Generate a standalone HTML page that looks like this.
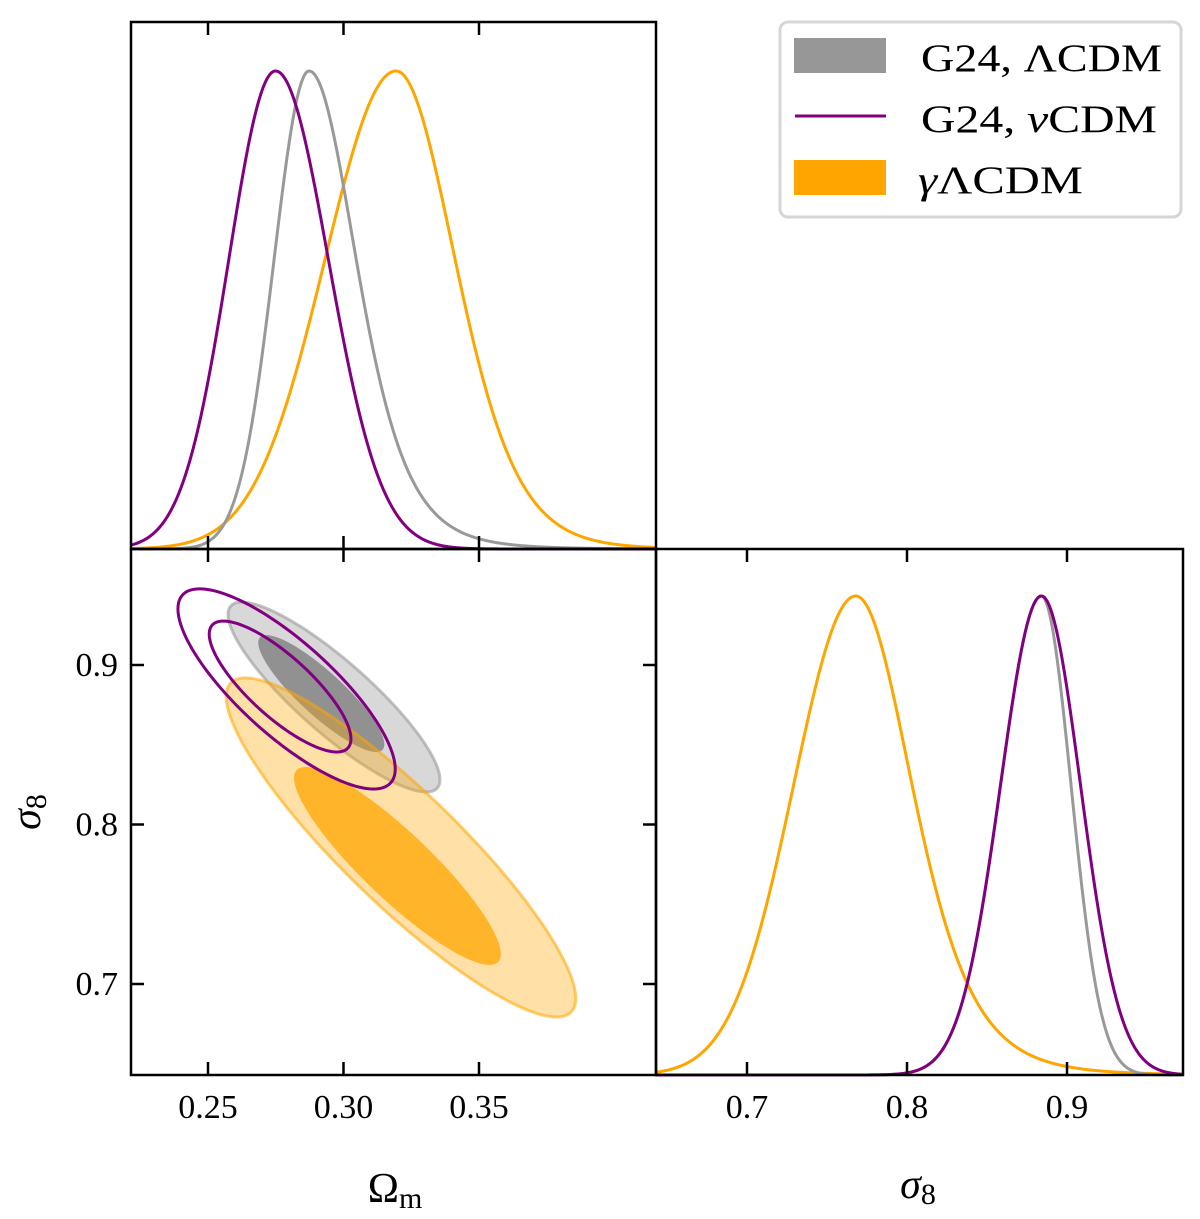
<!DOCTYPE html>
<html><head><meta charset="utf-8"><style>
html,body{margin:0;padding:0;background:#fff;}
svg text{font-family:"Liberation Serif","DejaVu Serif",serif;}
</style></head><body>
<svg id="fig" width="1200" height="1214" viewBox="0 0 1200 1214" xmlns="http://www.w3.org/2000/svg">
<g id="layer"></g>
<text x="395" y="1202" font-size="42" text-anchor="middle">Ω<tspan font-size="30" dy="6">m</tspan></text>
<text x="918" y="1198" font-size="42" text-anchor="middle"><tspan font-style="italic">σ</tspan><tspan font-size="30" dy="6">8</tspan></text>
<text transform="translate(40,812) rotate(-90)" font-size="42" text-anchor="middle"><tspan font-style="italic">σ</tspan><tspan font-size="30" dy="6">8</tspan></text>
<g>
<rect x="780" y="22" width="401" height="195" rx="8" fill="#fff" stroke="#d6d6d6" stroke-width="3"/>
<rect x="794" y="38" width="92" height="35" fill="#979797"/>
<line x1="795" x2="886" y1="116" y2="116" stroke="#800080" stroke-width="3"/>
<rect x="794" y="160" width="92" height="35" fill="#ffa500"/>
<text x="921" y="71" font-size="39" textLength="241" lengthAdjust="spacingAndGlyphs">G24, ΛCDM</text>
<text x="921" y="132" font-size="39" textLength="236" lengthAdjust="spacingAndGlyphs">G24, <tspan font-style="italic">ν</tspan>CDM</text>
<text x="918" y="193" font-size="39" textLength="165" lengthAdjust="spacingAndGlyphs"><tspan font-style="italic">γ</tspan>ΛCDM</text>
</g>
</svg>
<script>
// 1D marginals: Omega_m (peak, left scale, right scale, left/right tail nu; 1000 = gaussian)
const omSeries = ["grey","purple","orange"];
const omPeak   = [0.2873, 0.2749, 0.3194];
const omSigL   = [0.0129, 0.0172, 0.0262];
const omSigR   = [0.0181, 0.0195, 0.0223];
const omNuL    = [1000, 1000, 1000];
const omNuR    = [6, 1000, 10];
// 1D marginals: sigma_8
const s8Peak   = [0.884, 0.884, 0.768];
const s8SigL   = [0.0255, 0.0255, 0.0388];
const s8SigR   = [0.0185, 0.0244, 0.0366];
const s8NuL    = [1000, 1000, 1000];
const s8NuR    = [1000, 1000, 6];
// 2D contours: outer (95%) and inner (68%) centers, sigmas, correlation
const c2OmOut = [0.2965, 0.2790, 0.3212];
const c2S8Out = [0.8799, 0.8850, 0.7856];
const c2OmIn  = [0.2918, 0.2766, 0.3199];
const c2S8In  = [0.8821, 0.8865, 0.7740];
const c2SOmOut = [0.0157, 0.0161, 0.0259];
const c2SS8Out = [0.0239, 0.0252, 0.0427];
const c2SOmIn  = [0.0153, 0.0172, 0.0251];
const c2SS8In  = [0.0241, 0.0270, 0.0408];
const c2Rho = [-0.87, -0.80, -0.89];
// ticks
const omTicks = [0.25, 0.30, 0.35];
const omTickLabels = ["0.25","0.30","0.35"];
const s8Ticks = [0.7, 0.8, 0.9];
const s8TickLabels = ["0.7","0.8","0.9"];

const NS="http://www.w3.org/2000/svg";
const L=document.getElementById('layer');
function el(t,a,p){const e=document.createElementNS(NS,t);for(const k in a)e.setAttribute(k,a[k]);(p||L).appendChild(e);return e;}

const TL={x0:131,x1:656,y0:22,y1:549}, BL={x0:131,x1:656,y0:549,y1:1075}, BR={x0:656,x1:1183,y0:549,y1:1075};
const xOm=v=>208+(v-0.25)*2710;
const yS8=v=>665-(v-0.9)*1595;
const xS8=v=>747+(v-0.7)*1600;
const colors={grey:"#999999",purple:"#800080",orange:"#ffa500"};

function shape(z,nu){return nu>=100?Math.exp(-0.5*z*z):Math.pow(1+z*z/nu,-(nu+1)/2);}
function dens(x,m,sl,sr,nl,nr){return x<m?shape((x-m)/sl,nl):shape((x-m)/sr,nr);}

const g1=el('g',{});


[2,0,1].forEach(i=>{
  const n=omSeries[i];
  let d="";
  for(let px=TL.x0;px<=TL.x1;px+=1){
    const v=(px-208)/2710+0.25;
    const y=TL.y1-dens(v,omPeak[i],omSigL[i],omSigR[i],omNuL[i],omNuR[i])*(TL.y1-71);
    d+=(d?"L":"M")+px+" "+y.toFixed(2);
  }
  const p=el('path',{d:d,fill:"none",stroke:colors[n],"stroke-width":3},g1);
  
  
});

const g2=el('g',{});


[2,0,1].forEach(i=>{
  const n=omSeries[i];
  let d="";
  for(let px=BR.x0;px<=BR.x1;px+=1){
    const v=(px-747)/1600+0.7;
    const y=BR.y1-dens(v,s8Peak[i],s8SigL[i],s8SigR[i],s8NuL[i],s8NuR[i])*(BR.y1-596);
    d+=(d?"L":"M")+px+" "+y.toFixed(2);
  }
  const p=el('path',{d:d,fill:"none",stroke:colors[n],"stroke-width":3},g2);
  
  
});

const clip=el('clipPath',{id:'clipBL'});el('rect',{x:BL.x0,y:BL.y0,width:BL.x1-BL.x0,height:BL.y1-BL.y0},clip);
const g3=el('g',{'clip-path':'url(#clipBL)'});


function ell(cx,cy,sx,sy,r,k){
  let d="";const q=Math.sqrt(1-r*r);
  for(let j=0;j<=180;j++){const t=j/180*2*Math.PI;
    const vx=cx+k*sx*Math.cos(t);
    const vy=cy+k*sy*(r*Math.cos(t)+q*Math.sin(t));
    d+=(j?"L":"M")+xOm(vx).toFixed(2)+" "+yS8(vy).toFixed(2);}
  return d+"Z";
}
const outer=i=>ell(c2OmOut[i],c2S8Out[i],c2SOmOut[i],c2SS8Out[i],c2Rho[i],2.49);
const inner=i=>ell(c2OmIn[i],c2S8In[i],c2SOmIn[i],c2SS8In[i],c2Rho[i],1.52);
const styles={
  grey:[{fill:"rgba(153,153,153,0.38)",stroke:"rgba(153,153,153,0.6)"},{fill:"#919191"}],
  orange:[{fill:"rgba(255,165,0,0.35)",stroke:"rgba(255,165,0,0.55)"},{fill:"rgba(255,165,0,0.75)"}]
};
[0,2].forEach(i=>{
  const n=omSeries[i];
  const a=el('path',{d:outer(i),fill:styles[n][0].fill,stroke:styles[n][0].stroke,"stroke-width":3},g3);
  
  
  const b=el('path',{d:inner(i),fill:styles[n][1].fill,stroke:"none"},g3);
  
  
});
const po=el('path',{d:outer(1),fill:"none",stroke:"#800080","stroke-width":3},g3);


const pi=el('path',{d:inner(1),fill:"none",stroke:"#800080","stroke-width":3},g3);



const ax=el('g',{});


[TL,BL,BR].forEach(P=>{el('rect',{x:P.x0,y:P.y0,width:P.x1-P.x0,height:P.y1-P.y0,fill:"none",stroke:"#000","stroke-width":2.5},ax);});
const TK=13;
omTicks.forEach(v=>{const x=xOm(v);
  [TL,BL].forEach(P=>{el('line',{x1:x,x2:x,y1:P.y0,y2:P.y0+TK,stroke:"#000","stroke-width":2.5},ax);el('line',{x1:x,x2:x,y1:P.y1,y2:P.y1-TK,stroke:"#000","stroke-width":2.5},ax);});});
s8Ticks.forEach(v=>{const x=xS8(v);
  el('line',{x1:x,x2:x,y1:BR.y0,y2:BR.y0+TK,stroke:"#000","stroke-width":2.5},ax);el('line',{x1:x,x2:x,y1:BR.y1,y2:BR.y1-TK,stroke:"#000","stroke-width":2.5},ax);
  const y=yS8(v);
  el('line',{x1:BL.x0,x2:BL.x0+TK,y1:y,y2:y,stroke:"#000","stroke-width":2.5},ax);el('line',{x1:BL.x1,x2:BL.x1-TK,y1:y,y2:y,stroke:"#000","stroke-width":2.5},ax);});
omTicks.forEach((v,i)=>{const t=el('text',{x:xOm(v),y:1118,'font-size':34,'text-anchor':'middle'},ax);t.textContent=omTickLabels[i];
  
  });
s8Ticks.forEach((v,i)=>{const t=el('text',{x:xS8(v),y:1118,'font-size':34,'text-anchor':'middle'},ax);t.textContent=s8TickLabels[i];
  
  
  const u=el('text',{x:118,y:yS8(v)+11,'font-size':34,'text-anchor':'end'},ax);u.textContent=s8TickLabels[i];
  
  });
</script>
</body></html>
